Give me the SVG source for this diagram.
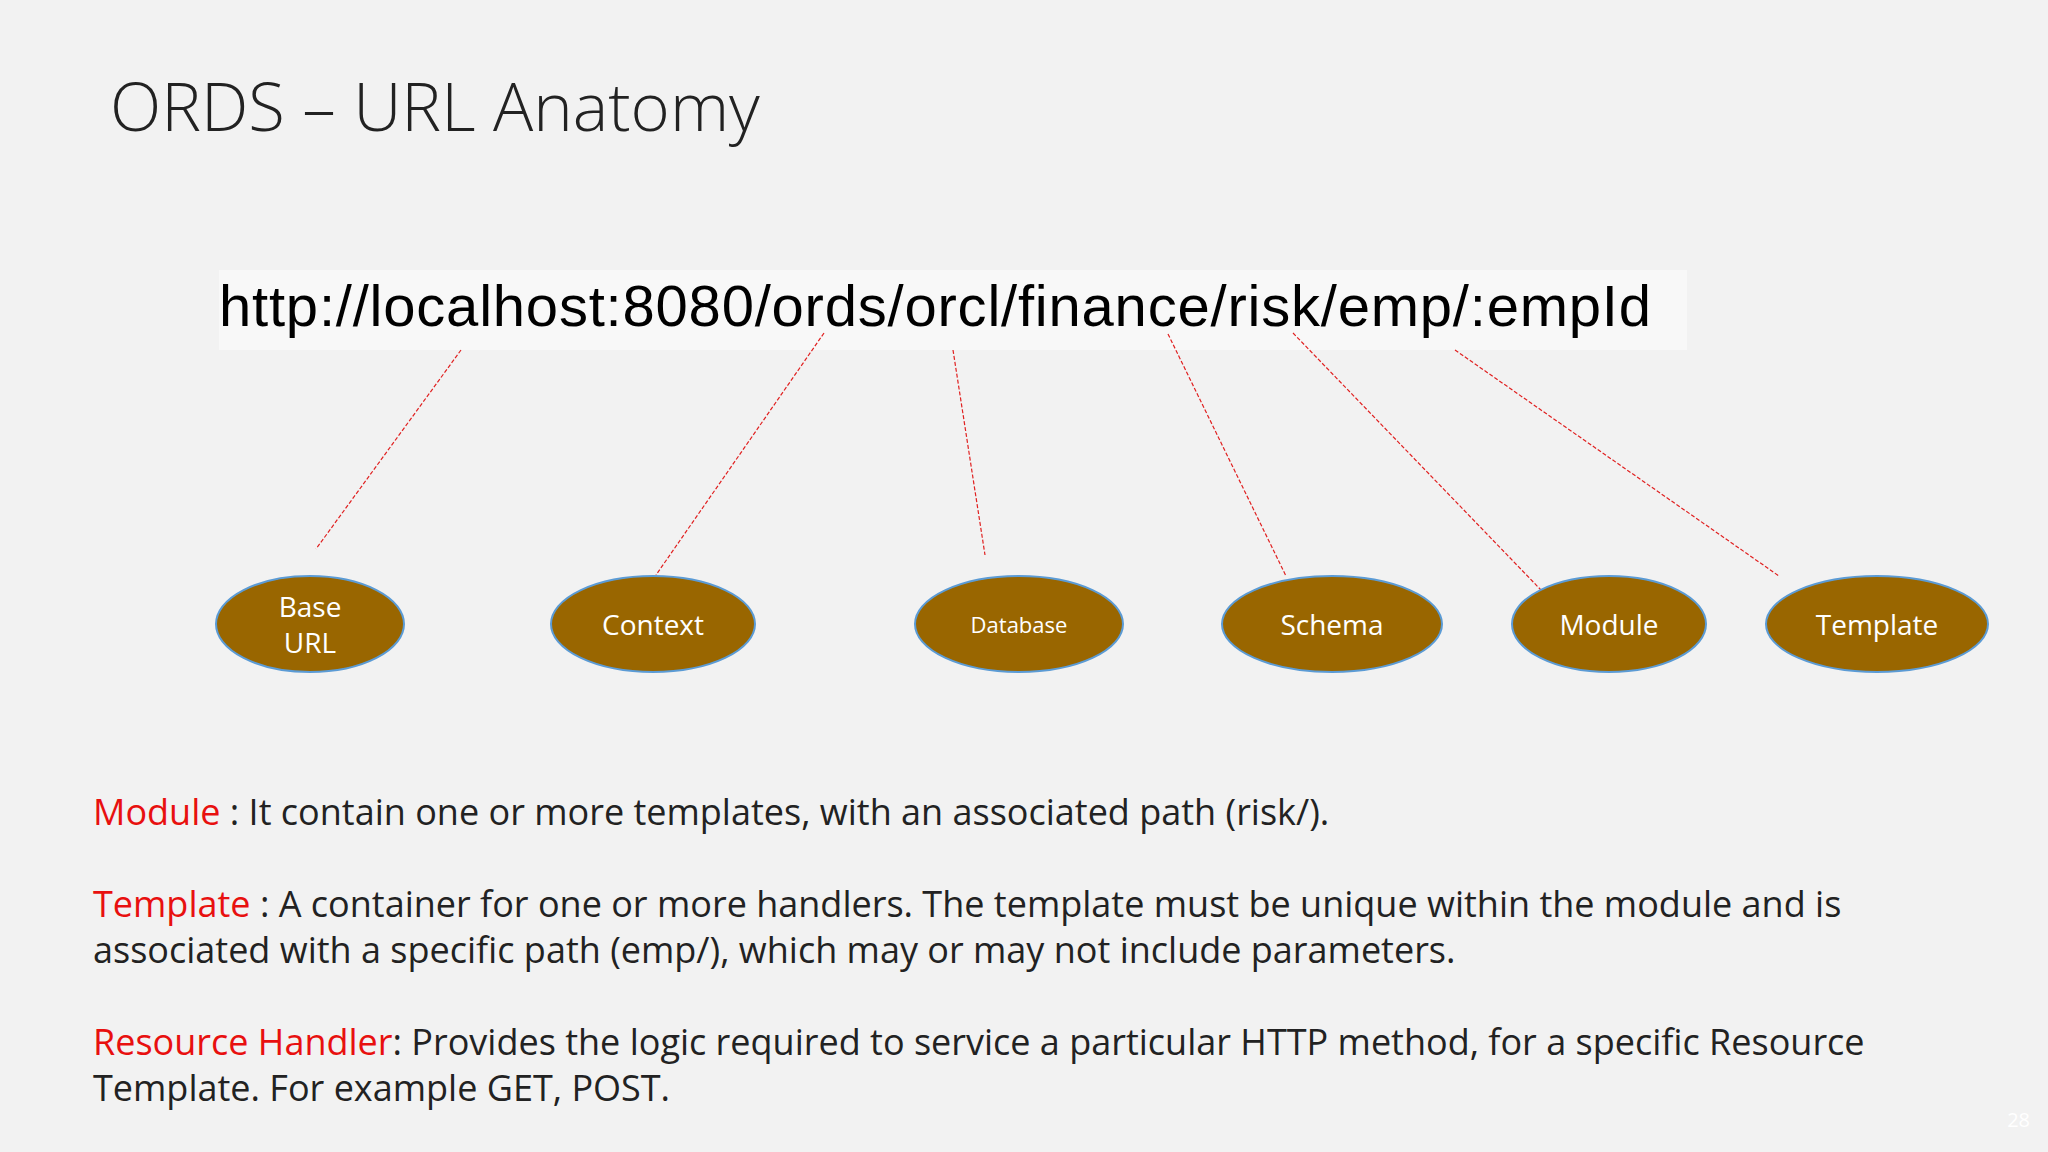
<svg xmlns="http://www.w3.org/2000/svg" width="2048" height="1152" viewBox="0 0 2048 1152">
<style>
.n ellipse{fill:#996600;stroke:#5b9bd5;stroke-width:2}
.n text{fill:#fff;font-family:"Open Sans","Noto Sans",sans-serif;font-size:28px;text-anchor:middle}
.c line{stroke:#e02020;stroke-width:1.2;stroke-dasharray:4 2}
.p{font-family:"Open Sans","Noto Sans",sans-serif;font-size:36px;fill:#222}
.r{fill:#e8100f}
</style>
<rect width="2048" height="1152" fill="#f2f2f2"/>
<text x="110" y="131" font-family="Open Sans, Noto Sans, sans-serif" font-weight="300" font-size="67" fill="#222">ORDS – URL Anatomy</text>
<rect x="219" y="270" width="1468" height="80" fill="#f8f8f8"/>
<text x="219" y="326" font-family="Liberation Sans, Arial, sans-serif" font-size="58" fill="#000" textLength="1432">http://localhost:8080/ords/orcl/finance/risk/emp/:empId</text>
<g class="c">
<line x1="461" y1="350" x2="316" y2="549"/>
<line x1="824" y1="333" x2="656" y2="575"/>
<line x1="953" y1="350" x2="985" y2="555"/>
<line x1="1168" y1="334" x2="1286" y2="576"/>
<line x1="1293" y1="333" x2="1541" y2="590"/>
<line x1="1455" y1="350" x2="1779" y2="576"/>
</g>
<g id="base" class="n"><ellipse cx="310" cy="624" rx="94" ry="48"/><text x="310" y="617">Base</text><text x="310" y="653">URL</text></g>
<g id="context" class="n"><ellipse cx="653" cy="624" rx="102" ry="48"/><text x="653" y="635">Context</text></g>
<g id="database" class="n"><ellipse cx="1019" cy="624" rx="104" ry="48"/><text x="1019" y="633" style="font-size:22px">Database</text></g>
<g id="schema" class="n"><ellipse cx="1332" cy="624" rx="110" ry="48"/><text x="1332" y="635">Schema</text></g>
<g id="module" class="n"><ellipse cx="1609" cy="624" rx="97" ry="48"/><text x="1609" y="635">Module</text></g>
<g id="template" class="n"><ellipse cx="1877" cy="624" rx="111" ry="48"/><text x="1877" y="635">Template</text></g>
<text class="p" x="93" y="825"><tspan class="r">Module</tspan> : It contain one or more templates, with an associated path (risk/).</text>
<text class="p" x="93" y="917"><tspan class="r">Template</tspan> : A container for one or more handlers. The template must be unique within the module and is</text>
<text class="p" x="93" y="963">associated with a specific path (emp/), which may or may not include parameters.</text>
<text class="p" x="93" y="1055"><tspan class="r">Resource Handler</tspan>: Provides the logic required to service a particular HTTP method, for a specific Resource</text>
<text class="p" x="93" y="1101">Template. For example GET, POST.</text>
<text x="2030" y="1127" text-anchor="end" font-family="Open Sans, sans-serif" font-size="20" fill="#fff">28</text>
</svg>
